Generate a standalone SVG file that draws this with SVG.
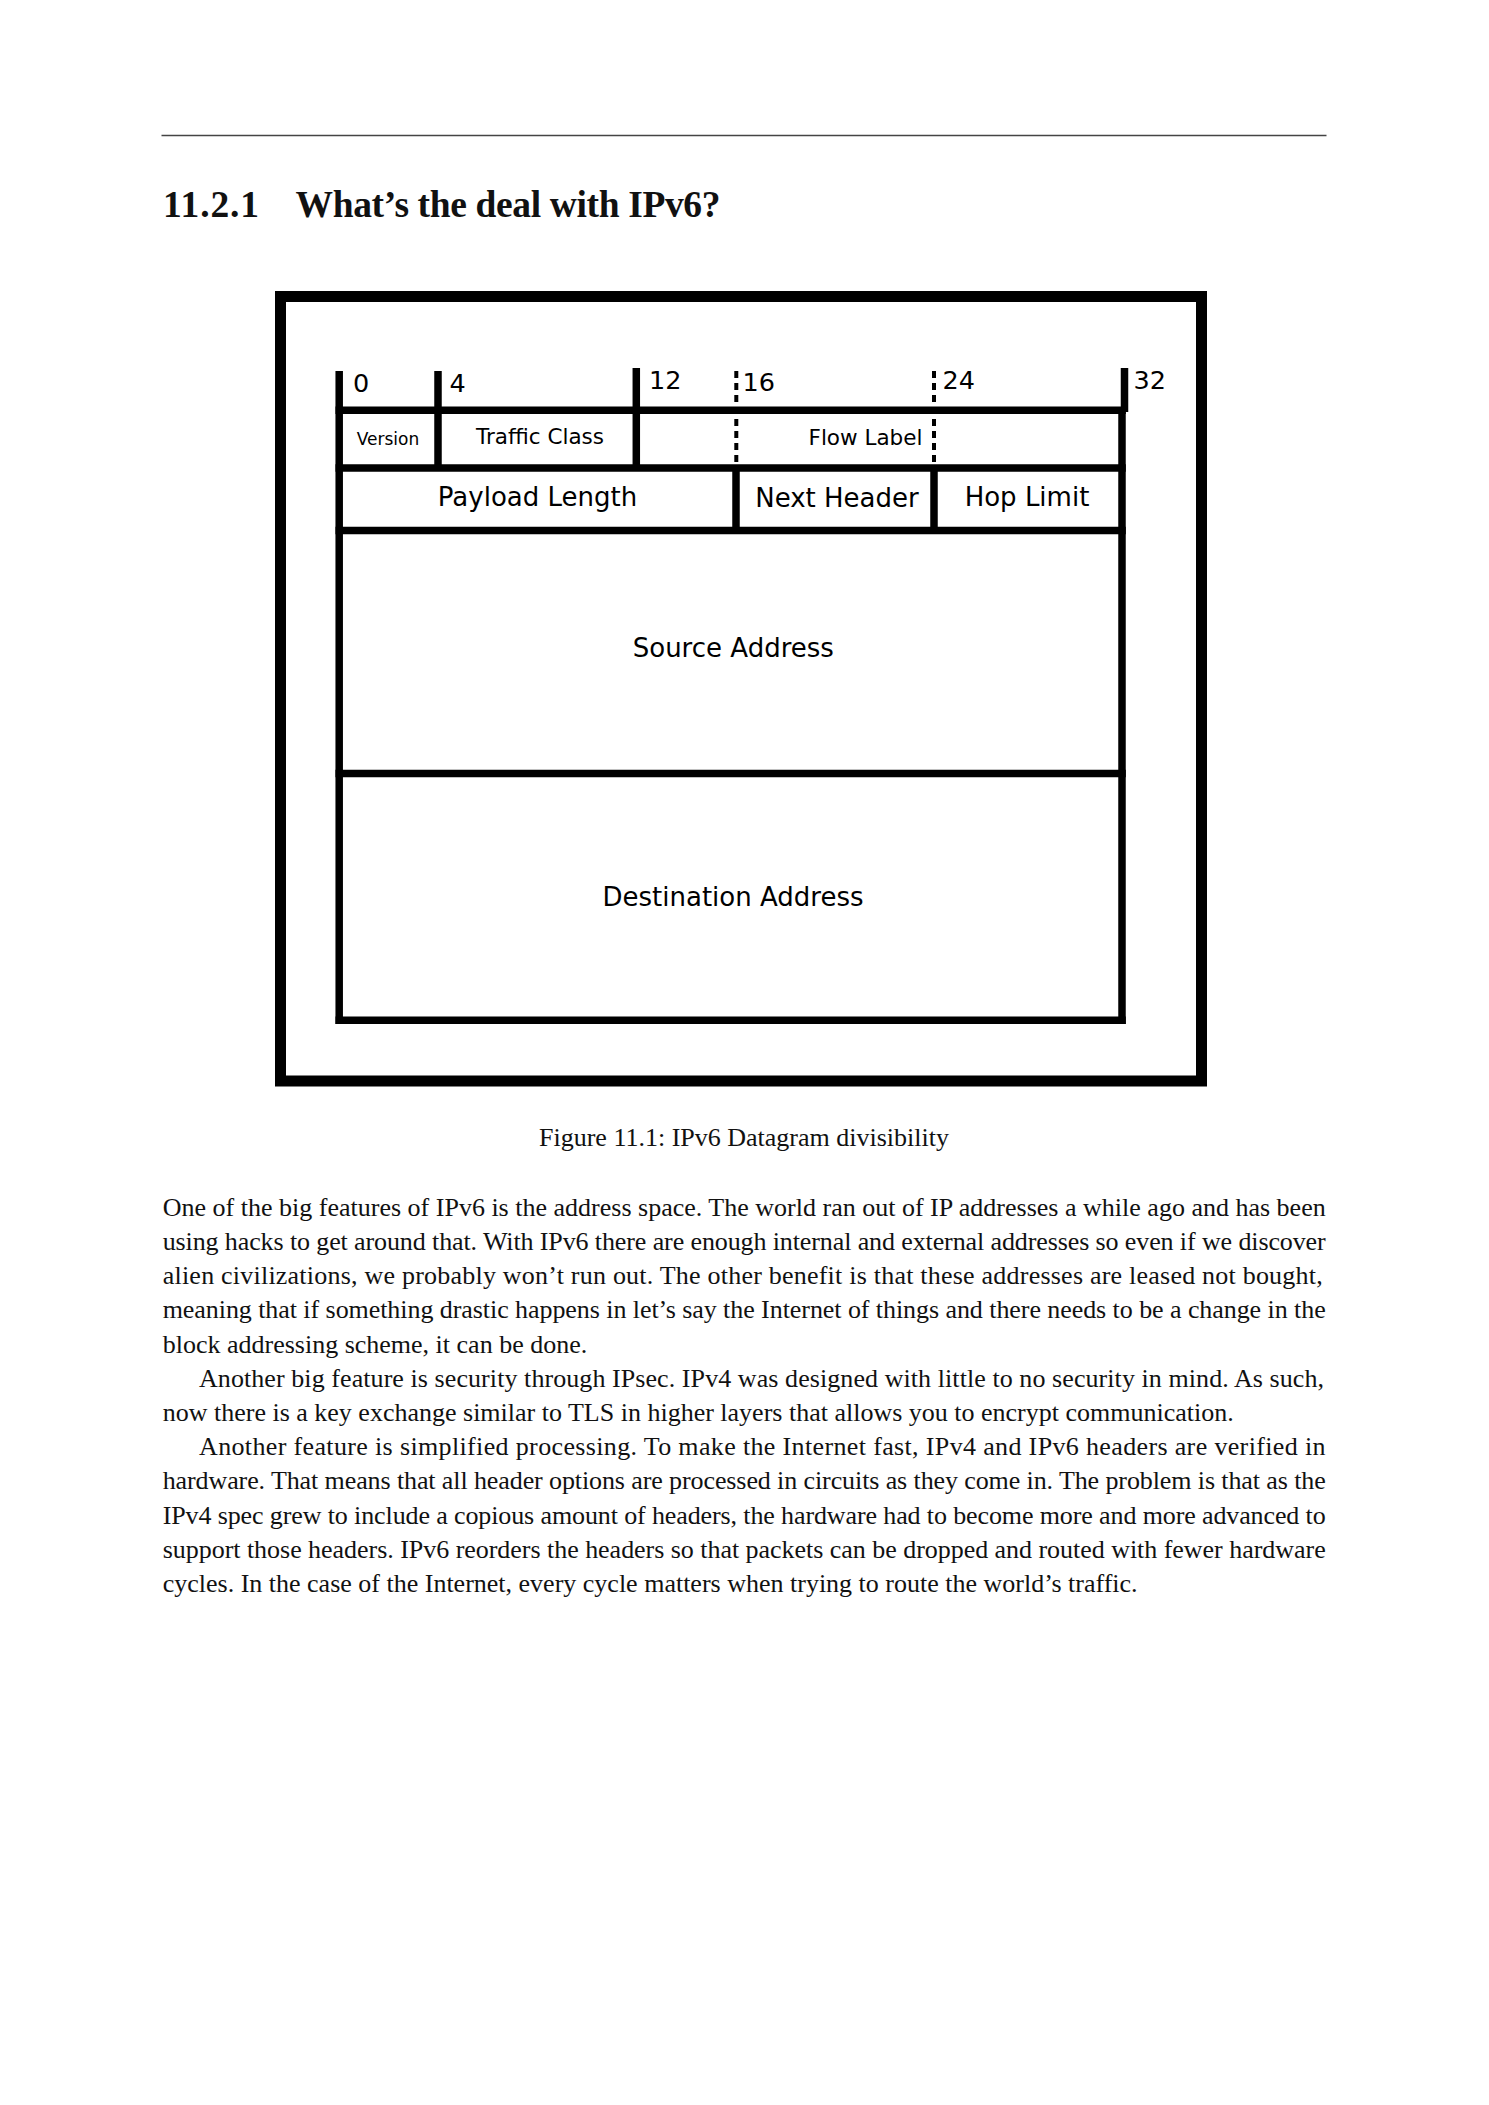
<svg xmlns="http://www.w3.org/2000/svg" width="1489" height="2105" viewBox="0 0 1489 2105">
<style>
.body{font-family:"Liberation Serif","Times New Roman",serif;font-size:26px;fill:#111}
.head{font-family:"Liberation Serif","Times New Roman",serif;font-size:37.5px;font-weight:bold;fill:#111}
.lbl{font-family:"DejaVu Sans",Verdana,sans-serif;fill:#000}
.num{font-size:25.5px}
.big{font-size:26px}
.mid{font-size:21.5px}
.sm{font-size:17px}
.ln{stroke:#000;stroke-width:7.5;fill:none;stroke-linecap:butt}
.dash{stroke:#000;stroke-width:4;fill:none;stroke-dasharray:7 5}
</style>
<rect width="1489" height="2105" fill="#fff"/>
<line x1="161.5" y1="135.5" x2="1326.5" y2="135.5" stroke="#444" stroke-width="1.4"/>
<text class="head" x="163" y="216.5" textLength="96" lengthAdjust="spacing">11.2.1</text>
<text class="head" x="295.5" y="216.5" textLength="425" lengthAdjust="spacing">What’s the deal with IPv6?</text>

<g id="figure">
  <rect id="outer-frame" x="280.5" y="296.5" width="921" height="784.5" fill="none" stroke="#000" stroke-width="11"/>
  <g id="connectors">
    <line class="ln" x1="339.2" y1="371" x2="339.2" y2="1024"/>
    <line class="ln" x1="438" y1="371" x2="438" y2="468"/>
    <line class="ln" x1="636.3" y1="368" x2="636.3" y2="468"/>
    <line class="dash" x1="736.3" y1="371" x2="736.3" y2="468"/>
    <line class="dash" x1="934" y1="371" x2="934" y2="468"/>
    <line class="ln" x1="1124.5" y1="368" x2="1124.5" y2="412"/>
    <line class="ln" x1="1122" y1="410" x2="1122" y2="1024"/>
    <line class="ln" x1="335.5" y1="410.2" x2="1125.8" y2="410.2"/>
    <line class="ln" x1="335.5" y1="468" x2="1125.8" y2="468"/>
    <line class="ln" x1="335.5" y1="530.4" x2="1125.8" y2="530.4"/>
    <line class="ln" x1="736" y1="468" x2="736" y2="530.4"/>
    <line class="ln" x1="934" y1="468" x2="934" y2="530.4"/>
    <line class="ln" x1="335.5" y1="773.6" x2="1125.8" y2="773.6" stroke-width="7"/>
    <line class="ln" x1="335.5" y1="1020.3" x2="1125.8" y2="1020.3"/>
  </g>
  <g id="bit-marks">
    <text class="lbl num" x="353" y="392">0</text>
    <text class="lbl num" x="449.5" y="392">4</text>
    <text class="lbl num" x="649" y="388.5">12</text>
    <text class="lbl num" x="742.5" y="391">16</text>
    <text class="lbl num" x="942.5" y="388.5">24</text>
    <text class="lbl num" x="1133.5" y="388.5">32</text>
  </g>
  <g id="version"><text class="lbl sm" x="388" y="445" text-anchor="middle">Version</text></g>
  <g id="traffic-class"><text class="lbl mid" x="540" y="444" text-anchor="middle">Traffic Class</text></g>
  <g id="flow-label"><text class="lbl mid" x="865.5" y="445" text-anchor="middle">Flow Label</text></g>
  <g id="payload-length"><text class="lbl big" x="537.5" y="506" text-anchor="middle">Payload Length</text></g>
  <g id="next-header"><text class="lbl big" x="837" y="506.5" text-anchor="middle">Next Header</text></g>
  <g id="hop-limit"><text class="lbl big" x="1027" y="505.5" text-anchor="middle">Hop Limit</text></g>
  <g id="source-address"><text class="lbl big" x="733.3" y="656.7" text-anchor="middle">Source Address</text></g>
  <g id="destination-address"><text class="lbl big" x="733" y="906" text-anchor="middle">Destination Address</text></g>
</g>

<text class="body" x="744" y="1145.5" text-anchor="middle">Figure 11.1: IPv6 Datagram divisibility</text>

<g id="paragraphs">
<text class="body" x="162.7" y="1215.7" textLength="1163" lengthAdjust="spacing">One of the big features of IPv6 is the address space. The world ran out of IP addresses a while ago and has been</text>
<text class="body" x="162.7" y="1249.9" textLength="1163" lengthAdjust="spacing">using hacks to get around that. With IPv6 there are enough internal and external addresses so even if we discover</text>
<text class="body" x="162.7" y="1284.1" textLength="1160" lengthAdjust="spacing">alien civilizations, we probably won’t run out. The other benefit is that these addresses are leased not bought,</text>
<text class="body" x="162.7" y="1318.3" textLength="1163" lengthAdjust="spacing">meaning that if something drastic happens in let’s say the Internet of things and there needs to be a change in the</text>
<text class="body" x="162.7" y="1352.5">block addressing scheme, it can be done.</text>
<text class="body" x="199" y="1386.7" textLength="1125" lengthAdjust="spacing">Another big feature is security through IPsec. IPv4 was designed with little to no security in mind. As such,</text>
<text class="body" x="162.7" y="1420.9">now there is a key exchange similar to TLS in higher layers that allows you to encrypt communication.</text>
<text class="body" x="199" y="1455.1" textLength="1126.5" lengthAdjust="spacing">Another feature is simplified processing. To make the Internet fast, IPv4 and IPv6 headers are verified in</text>
<text class="body" x="162.7" y="1489.3" textLength="1163" lengthAdjust="spacing">hardware. That means that all header options are processed in circuits as they come in. The problem is that as the</text>
<text class="body" x="162.7" y="1523.5" textLength="1163" lengthAdjust="spacing">IPv4 spec grew to include a copious amount of headers, the hardware had to become more and more advanced to</text>
<text class="body" x="162.7" y="1557.7" textLength="1163" lengthAdjust="spacing">support those headers. IPv6 reorders the headers so that packets can be dropped and routed with fewer hardware</text>
<text class="body" x="162.7" y="1591.9">cycles. In the case of the Internet, every cycle matters when trying to route the world’s traffic.</text>
</g>
</svg>
